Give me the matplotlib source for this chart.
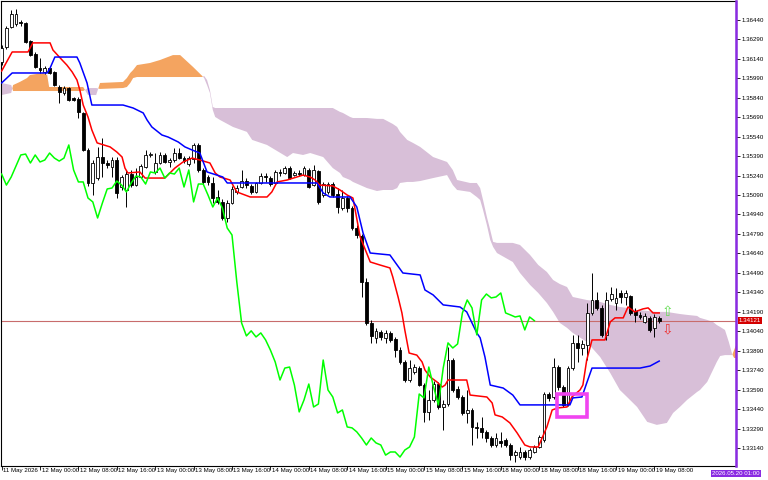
import matplotlib
matplotlib.use("Agg")
import matplotlib.pyplot as plt
import matplotlib.transforms as mtransforms
from matplotlib.patches import Rectangle
import numpy as np

plt.rcParams['font.family'] = ['Liberation Sans', 'DejaVu Sans']
FS = 4.4

# H1 candles, 11 May 16:00 .. 19 May 09:00
opens = [1.36116, 1.36232, 1.36386, 1.36409, 1.36425, 1.36417, 1.36278, 1.36177, 1.36069, 1.36039,
         1.36069, 1.36039, 1.35923, 1.35877, 1.35915, 1.35838, 1.35831, 1.35723, 1.35437, 1.35183,
         1.35221, 1.35383, 1.35337, 1.35306, 1.35360, 1.35152, 1.35129, 1.35252, 1.35167, 1.35229,
         1.35306, 1.35399, 1.35268, 1.35337, 1.35399, 1.35345, 1.35360, 1.35414, 1.35375, 1.35329,
         1.35368, 1.35476, 1.35283, 1.35229, 1.35183, 1.35075, 1.35037, 1.34913, 1.35029, 1.35114,
         1.35152, 1.35198, 1.35160, 1.35114, 1.35183, 1.35237, 1.35221, 1.35183, 1.35268, 1.35260,
         1.35298, 1.35244, 1.35260, 1.35244, 1.35283, 1.35167, 1.35275, 1.35090, 1.35114, 1.35175,
         1.35098, 1.34990, 1.35067, 1.34990, 1.34836, 1.34774, 1.34420, 1.34104, 1.33989, 1.34035,
         1.33989, 1.34027, 1.33981, 1.33895, 1.33803, 1.33664, 1.33726, 1.33756, 1.33625, 1.33418,
         1.33510, 1.33633, 1.33456, 1.33479, 1.33818, 1.33595, 1.33533, 1.33410, 1.33433, 1.33302,
         1.33295, 1.33264, 1.33217, 1.33163, 1.33194, 1.33202, 1.33163, 1.33085, 1.33070, 1.33109,
         1.33070, 1.33109, 1.33148, 1.33202, 1.33556, 1.33533, 1.33764, 1.33610, 1.33479, 1.33756,
         1.33950, 1.33911, 1.33934, 1.34181, 1.34281, 1.34220, 1.34012, 1.34289, 1.34258, 1.34335,
         1.34304, 1.34312, 1.34197, 1.34166, 1.34112, 1.34143, 1.34066, 1.34143]
highs = [1.36247, 1.36394, 1.36517, 1.36525, 1.36440, 1.36425, 1.36286, 1.36193, 1.36146, 1.36085,
         1.36085, 1.36046, 1.35938, 1.35931, 1.35923, 1.35846, 1.35846, 1.35731, 1.35453, 1.35360,
         1.35461, 1.35530, 1.35360, 1.35383, 1.35383, 1.35244, 1.35283, 1.35283, 1.35298, 1.35329,
         1.35437, 1.35422, 1.35414, 1.35422, 1.35414, 1.35375, 1.35453, 1.35453, 1.35391, 1.35391,
         1.35492, 1.35492, 1.35298, 1.35244, 1.35229, 1.35129, 1.35060, 1.35052, 1.35160, 1.35167,
         1.35283, 1.35221, 1.35175, 1.35191, 1.35260, 1.35260, 1.35237, 1.35283, 1.35291, 1.35314,
         1.35314, 1.35275, 1.35283, 1.35314, 1.35298, 1.35321, 1.35283, 1.35191, 1.35191, 1.35191,
         1.35144, 1.35129, 1.35083, 1.35006, 1.34859, 1.34790, 1.34451, 1.34127, 1.34066, 1.34050,
         1.34050, 1.34043, 1.33996, 1.33919, 1.33818, 1.33818, 1.33787, 1.33772, 1.33641, 1.33587,
         1.33656, 1.33649, 1.33510, 1.33919, 1.33834, 1.33618, 1.33549, 1.33587, 1.33449, 1.33341,
         1.33379, 1.33279, 1.33233, 1.33256, 1.33264, 1.33217, 1.33179, 1.33124, 1.33148, 1.33124,
         1.33140, 1.33163, 1.33240, 1.33572, 1.33572, 1.33834, 1.33780, 1.33625, 1.33772, 1.34012,
         1.34012, 1.33973, 1.34258, 1.34489, 1.34343, 1.34243, 1.34343, 1.34381, 1.34374, 1.34358,
         1.34358, 1.34320, 1.34220, 1.34189, 1.34181, 1.34158, 1.34173, 1.34158]
lows = [1.36092, 1.36217, 1.36378, 1.36394, 1.36394, 1.36263, 1.36162, 1.36069, 1.36031, 1.36023,
        1.36023, 1.35931, 1.35800, 1.35861, 1.35815, 1.35815, 1.35684, 1.35429, 1.35160, 1.35090,
        1.35206, 1.35229, 1.35298, 1.35229, 1.35067, 1.35129, 1.34998, 1.35152, 1.35160, 1.35221,
        1.35298, 1.35383, 1.35252, 1.35329, 1.35337, 1.35306, 1.35345, 1.35368, 1.35337, 1.35314,
        1.35337, 1.35268, 1.35175, 1.35167, 1.35029, 1.35021, 1.34898, 1.34883, 1.35021, 1.35098,
        1.35144, 1.35144, 1.35098, 1.35106, 1.35175, 1.35191, 1.35160, 1.35175, 1.35237, 1.35252,
        1.35214, 1.35237, 1.35237, 1.35237, 1.35144, 1.35160, 1.35021, 1.35075, 1.35098, 1.35075,
        1.34952, 1.34975, 1.34960, 1.34821, 1.34759, 1.34304, 1.34088, 1.33950, 1.33950, 1.33973,
        1.33950, 1.33958, 1.33841, 1.33787, 1.33649, 1.33649, 1.33710, 1.33618, 1.33341, 1.33356,
        1.33495, 1.33441, 1.33279, 1.33464, 1.33572, 1.33518, 1.33395, 1.33333, 1.33163, 1.33217,
        1.33217, 1.33186, 1.33148, 1.33148, 1.33148, 1.33148, 1.33047, 1.33032, 1.33055, 1.33047,
        1.33055, 1.33101, 1.33140, 1.33186, 1.33502, 1.33518, 1.33587, 1.33456, 1.33464, 1.33741,
        1.33803, 1.33857, 1.33818, 1.34166, 1.34204, 1.33996, 1.33973, 1.34273, 1.34204, 1.34258,
        1.34243, 1.34166, 1.34112, 1.34135, 1.34104, 1.34035, 1.33996, 1.34104]
closes = [1.36224, 1.36378, 1.36486, 1.36486, 1.36417, 1.36271, 1.36169, 1.36077, 1.36054, 1.36069,
          1.36031, 1.35938, 1.35885, 1.35915, 1.35823, 1.35823, 1.35731, 1.35437, 1.35183, 1.35337,
          1.35383, 1.35337, 1.35321, 1.35360, 1.35106, 1.35229, 1.35252, 1.35167, 1.35229, 1.35314,
          1.35399, 1.35406, 1.35337, 1.35399, 1.35345, 1.35360, 1.35414, 1.35375, 1.35352, 1.35375,
          1.35476, 1.35283, 1.35191, 1.35191, 1.35067, 1.35037, 1.34913, 1.35029, 1.35137, 1.35144,
          1.35198, 1.35167, 1.35114, 1.35183, 1.35237, 1.35229, 1.35175, 1.35268, 1.35260, 1.35298,
          1.35221, 1.35260, 1.35252, 1.35298, 1.35152, 1.35283, 1.35037, 1.35175, 1.35175, 1.35090,
          1.34998, 1.35067, 1.34990, 1.34836, 1.34782, 1.34420, 1.34104, 1.34004, 1.34043, 1.33996,
          1.34027, 1.33973, 1.33895, 1.33803, 1.33664, 1.33756, 1.33764, 1.33625, 1.33418, 1.33510,
          1.33633, 1.33456, 1.33479, 1.33818, 1.33587, 1.33533, 1.33410, 1.33433, 1.33302, 1.33295,
          1.33264, 1.33217, 1.33163, 1.33217, 1.33179, 1.33163, 1.33085, 1.33109, 1.33109, 1.33070,
          1.33124, 1.33148, 1.33225, 1.33556, 1.33526, 1.33764, 1.33610, 1.33472, 1.33756, 1.33950,
          1.33911, 1.33942, 1.34181, 1.34281, 1.34220, 1.34012, 1.34281, 1.34327, 1.34297, 1.34304,
          1.34335, 1.34181, 1.34166, 1.34150, 1.34158, 1.34050, 1.34150, 1.34121]

# Tenkan-sen (red), read at its turning points
tenkan_bar = [0, 2.2, 5.5, 6.5, 10.1, 10.7, 12.6, 13.6, 14.7, 15.7,
              16.3, 17.0, 18.0, 18.8, 19.9, 22.6, 24.0, 25.1, 25.7, 26.3,
              28.8, 29.9, 34.0, 36.1, 37.8, 39.7, 41.3, 43.4, 44.5, 45.5,
              47.6, 49.0, 51.8, 55.3, 56.3, 57.4, 59.5, 61.5, 62.8, 64.3,
              65.3, 66.3, 69.0, 70.5, 72.0, 73.2, 74.7, 76.8, 78.8, 80.9,
              81.5, 82.6, 83.4, 84.0, 84.9, 86.5, 87.6, 88.2, 89.3, 90.7,
              91.8, 92.4, 93.0, 96.9, 97.6, 101.1, 102.2, 102.8, 104.3, 105.9,
              107.4, 109.0, 110.1, 111.8, 112.6, 113.6, 114.7, 115.9, 117.8, 118.8,
              120.5, 121.1, 121.9, 123.0, 125.7, 126.8, 127.8, 129.5, 130.5, 131.9,
              133.6, 134.7, 135.7, 137]
tenkan = [1.36046, 1.36193, 1.36193, 1.36263, 1.36263, 1.36208, 1.36131, 1.36092, 1.36039, 1.35977,
          1.35900, 1.35784, 1.35692, 1.35592, 1.35492, 1.35461, 1.35422, 1.35383, 1.35298, 1.35260,
          1.35268, 1.35221, 1.35221, 1.35298, 1.35345, 1.35375, 1.35360, 1.35337, 1.35260, 1.35229,
          1.35206, 1.35114, 1.35075, 1.35075, 1.35114, 1.35191, 1.35206, 1.35229, 1.35244, 1.35229,
          1.35206, 1.35167, 1.35160, 1.35129, 1.35090, 1.35067, 1.34767, 1.34574, 1.34551, 1.34528,
          1.34458, 1.34304, 1.34181, 1.34050, 1.33872, 1.33856, 1.33803, 1.33741, 1.33687, 1.33649,
          1.33610, 1.33625, 1.33664, 1.33664, 1.33548, 1.33533, 1.33487, 1.33395, 1.33379, 1.33333,
          1.33256, 1.33163, 1.33148, 1.33148, 1.33217, 1.33302, 1.33433, 1.33449, 1.33456, 1.33533,
          1.33587, 1.33625, 1.33818, 1.33973, 1.33973, 1.34112, 1.34143, 1.34143, 1.34227, 1.34189,
          1.34212, 1.34220, 1.34181, 1.34181]

# Kijun-sen (blue)
kijun_bar = [0, 2.2, 9.5, 10.1, 11.1, 15.7, 16.3, 17.8, 18.8, 25.3,
             27.4, 29.5, 30.3, 31.3, 33.4, 34.7, 36.8, 38.2, 39.7, 41.3,
             42.8, 46.1, 47.0, 65.7, 67.0, 68.4, 72.6, 74.0, 75.3, 76.8,
             80.9, 83.6, 87.2, 88.2, 89.9, 92.0, 95.5, 96.9, 99.0, 99.7,
             100.7, 101.8, 104.5, 106.5, 108.0, 118.4, 119.0, 120.9, 121.9, 123.0,
             133.0, 135.1, 137]
kijun = [1.35954, 1.36031, 1.36031, 1.36069, 1.36154, 1.36154, 1.36108, 1.35954, 1.35784, 1.35784,
         1.35761, 1.35723, 1.35669, 1.35615, 1.35553, 1.35537, 1.35499, 1.35461, 1.35437, 1.35414,
         1.35268, 1.35229, 1.35183, 1.35183, 1.35106, 1.35075, 1.35075, 1.34998, 1.34798, 1.34643,
         1.34628, 1.34489, 1.34474, 1.34358, 1.34320, 1.34243, 1.34227, 1.34189, 1.34027, 1.33989,
         1.33841, 1.33625, 1.33602, 1.33548, 1.33472, 1.33472, 1.33526, 1.33533, 1.33641, 1.33756,
         1.33756, 1.33772, 1.33810]

# Senkou span A / B (cloud), shifted 26 bars ahead
cloud_bar = [0, 2.0, 2.4, 3.8, 5.3, 5.9, 8.6, 9.5, 9.9, 17.0,
             18.0, 19.7, 20.5, 25.3, 26.1, 26.8, 27.4, 28.2, 30.9, 33.0,
             35.7, 37.2, 39.9, 41.8, 42.2, 42.8, 43.4, 44.0, 44.5, 45.5,
             48.2, 51.1, 52.2, 55.3, 59.5, 60.7, 62.8, 64.3, 67.0, 69.0,
             70.5, 71.1, 72.6, 73.2, 76.1, 78.2, 79.5, 81.5, 82.4, 83.0,
             84.5, 85.7, 87.2, 89.9, 92.8, 94.0, 94.9, 97.6, 99.0, 99.7,
             100.3, 101.1, 101.8, 102.4, 103.2, 106.5, 108.0, 110.1, 111.8, 113.6,
             114.9, 116.3, 117.8, 119.0, 121.9, 124.7, 126.8, 128.8, 130.3, 132.4,
             134.5, 136.5, 138.6, 139.9, 141.3, 142.8, 144.9, 145.5, 147.0, 148.2,
             149.0, 149.7, 150.7, 151.5, 152.2, 152.6, 153.2]
span_a = [1.35861, 1.35877, 1.35938, 1.35962, 1.35992, 1.36015, 1.36031, 1.36015, 1.35923, 1.35923,
          1.35861, 1.35861, 1.35954, 1.35962, 1.35992, 1.36031, 1.36054, 1.36092, 1.36108, 1.36131,
          1.36169, 1.36169, 1.36077, 1.36008, 1.35992, 1.35938, 1.35877, 1.35746, 1.35692, 1.35669,
          1.35615, 1.35577, 1.35515, 1.35476, 1.35383, 1.35414, 1.35399, 1.35414, 1.35383, 1.35298,
          1.35260, 1.35229, 1.35206, 1.35191, 1.35144, 1.35121, 1.35129, 1.35129, 1.35144, 1.35183,
          1.35191, 1.35191, 1.35198, 1.35221, 1.35244, 1.35167, 1.35129, 1.35114, 1.35075, 1.35052,
          1.34975, 1.34859, 1.34744, 1.34690, 1.34643, 1.34574, 1.34489, 1.34397, 1.34335, 1.34258,
          1.34189, 1.34104, 1.34066, 1.34027, 1.33958, 1.33841, 1.33718, 1.33587, 1.33533, 1.33456,
          1.33341, 1.33318, 1.33333, 1.33410, 1.33456, 1.33510, 1.33572, 1.33587, 1.33649, 1.33741,
          1.33803, 1.33849, 1.33856, 1.33856, 1.33856, 1.33895, 1.33950]
span_b = [1.35954, 1.35938, 1.35892, 1.35892, 1.35892, 1.35892, 1.35892, 1.35892, 1.35892, 1.35892,
          1.35915, 1.35915, 1.35908, 1.35915, 1.35923, 1.35954, 1.35992, 1.36000, 1.36000, 1.36000,
          1.36000, 1.36000, 1.36000, 1.36000, 1.36008, 1.35977, 1.35900, 1.35769, 1.35761, 1.35761,
          1.35761, 1.35761, 1.35761, 1.35761, 1.35761, 1.35761, 1.35761, 1.35761, 1.35761, 1.35761,
          1.35731, 1.35723, 1.35692, 1.35684, 1.35684, 1.35677, 1.35677, 1.35638, 1.35615, 1.35577,
          1.35515, 1.35492, 1.35461, 1.35383, 1.35345, 1.35283, 1.35206, 1.35183, 1.35183, 1.35144,
          1.35052, 1.34921, 1.34821, 1.34729, 1.34721, 1.34721, 1.34705, 1.34628, 1.34551, 1.34497,
          1.34435, 1.34404, 1.34381, 1.34304, 1.34281, 1.34266, 1.34243, 1.34227, 1.34220, 1.34204,
          1.34197, 1.34189, 1.34189, 1.34181, 1.34173, 1.34166, 1.34158, 1.34143, 1.34127, 1.34112,
          1.34088, 1.34073, 1.34050, 1.33958, 1.33864, 1.33834, 1.33834]

time_labels = ['11 May 2026', '12 May 00:00', '12 May 08:00', '12 May 16:00', '13 May 00:00',
               '13 May 08:00', '13 May 16:00', '14 May 00:00', '14 May 08:00', '14 May 16:00',
               '15 May 00:00', '15 May 08:00', '15 May 16:00', '18 May 00:00', '18 May 08:00',
               '18 May 16:00', '19 May 00:00', '19 May 08:00']
price_ticks = [1.36440, 1.36290, 1.36140, 1.35990, 1.35840, 1.35690, 1.35540, 1.35390,
               1.35240, 1.35090, 1.34940, 1.34790, 1.34640, 1.34490, 1.34340, 1.34190,
               1.34040, 1.33890, 1.33740, 1.33590, 1.33440, 1.33290, 1.33140]
bid = 1.34121
vline_bar = 153
vline_label = '2026.05.20 01:00'
box_bars = (115.7, 122.0)
box_prices = (1.33379, 1.33556)
arrow_bar = 138.8
arrow_up_price = 1.34188
arrow_dn_price = 1.34057
chikou_shift = 26

o = np.array(opens)
h = np.array(highs)
l = np.array(lows)
c = np.array(closes)
bars = np.arange(len(c))

fig = plt.figure(figsize=(7.68, 4.8), dpi=100)
ax = fig.add_axes([1 / 768, 14 / 480, 735 / 768, 465 / 480])
ax.set_xlim(-0.125, 153.0)
ax.set_ylim(1.33001, 1.36586)

# cloud
sa = np.array(span_a)
sb = np.array(span_b)
ax.fill_between(cloud_bar, sa, sb, where=sa >= sb, interpolate=True,
                color='#f4a460', lw=0, zorder=1)
ax.fill_between(cloud_bar, sa, sb, where=sa < sb, interpolate=True,
                color='#d8bfd8', lw=0, zorder=1)

# bid line
ax.axhline(bid, color='#c86c6c', lw=0.8, zorder=2)

# candles
up = c >= o
ax.vlines(bars, l, h, color='black', lw=0.7, zorder=3)
ax.bar(bars[up], (c - o)[up], bottom=o[up], width=0.62, color='white',
       edgecolor='black', lw=0.6, zorder=4)
ax.bar(bars[~up], (o - c)[~up], bottom=c[~up], width=0.62, color='black',
       edgecolor='black', lw=0.6, zorder=4)

# ichimoku lines
ax.plot(tenkan_bar, tenkan, color='#ff0000', lw=1.1, zorder=5)
ax.plot(kijun_bar, kijun, color='#0000ff', lw=1.1, zorder=5)
ax.plot(bars[:-chikou_shift], c[chikou_shift:], color='#00ff00', lw=1.1, zorder=5)

# objects
ax.add_patch(Rectangle((box_bars[0], box_prices[0]), box_bars[1] - box_bars[0],
                       box_prices[1] - box_prices[0], fill=False,
                       edgecolor='#f044f0', lw=2.6, zorder=6))
ax.text(arrow_bar, arrow_up_price, '\u21e7', color='#66dd55', fontsize=10,
        family='DejaVu Sans', ha='center', va='center', zorder=6)
ax.text(arrow_bar, arrow_dn_price, '\u21e9', color='#ee3333', fontsize=10,
        family='DejaVu Sans', ha='center', va='center', zorder=6)
ax.axvline(vline_bar, color='#8a2be2', lw=1.8, zorder=7, clip_on=False)

# axes styling
for sp in ax.spines.values():
    sp.set_color('black')
    sp.set_linewidth(0.8)
ax.yaxis.tick_right()
ax.set_yticks(price_ticks)
ax.set_yticklabels([f'{p:.5f}' for p in price_ticks])
ax.tick_params(axis='y', direction='out', length=3, width=0.6, pad=1.2,
               labelsize=FS, colors='black')
ax.set_xticks(np.arange(0, 8 * len(time_labels), 8))
ax.tick_params(axis='x', direction='out', length=3, width=0.6, labelbottom=False)

xlab = mtransforms.blended_transform_factory(ax.transData, ax.transAxes)
xlab = mtransforms.offset_copy(xlab, fig=fig, x=1.5, y=-2, units='dots')
for k, lbl in enumerate(time_labels):
    ax.text(8 * k, 0, lbl, transform=xlab, ha='left', va='top', fontsize=FS)

vt = mtransforms.offset_copy(mtransforms.blended_transform_factory(ax.transData, ax.transAxes),
                             fig=fig, x=0, y=-5, units='dots')
ax.text(vline_bar, 0, vline_label, transform=vt, ha='center', va='top', fontsize=FS,
        color='white', bbox=dict(facecolor='#8a2be2', edgecolor='none', pad=0.8),
        clip_on=False)

yt = mtransforms.offset_copy(mtransforms.blended_transform_factory(ax.transAxes, ax.transData),
                             fig=fig, x=3, y=0, units='dots')
ax.text(1.0, bid, f'{bid:.5f}', transform=yt, ha='left', va='center', fontsize=FS,
        color='white', bbox=dict(facecolor='#d40000', edgecolor='none', pad=0.8),
        clip_on=False, zorder=8)

fig.savefig('out.png', dpi=100)
